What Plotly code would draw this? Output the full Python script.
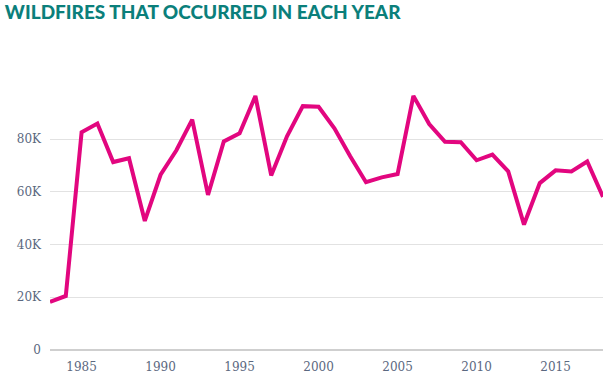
import plotly.graph_objects as go

years = list(range(1983, 2019))
wildfires = [18229, 20493, 82591, 85907, 71300, 72750, 48949, 66481, 75754, 87394,
             58810, 79107, 82234, 96363, 66196, 81043, 92487, 92250, 84079, 73457,
             63629, 65461, 66753, 96385, 85705, 78979, 78792, 71971, 74126, 67774,
             47579, 63312, 68151, 67743, 71499, 58083]
y_ticks = [0, 20000, 40000, 60000, 80000]
y_tick_labels = ["0", "20K", "40K", "60K", "80K"]
x_ticks = [1985, 1990, 1995, 2000, 2005, 2010, 2015]
title_text = "WILDFIRES THAT OCCURRED IN EACH YEAR"

fig = go.Figure(go.Scatter(
    x=years, y=wildfires, mode="lines",
    line=dict(color="#e2067f", width=4),
    hoverinfo="x+y",
    cliponaxis=False,
))

fig.update_layout(
    width=608, height=378,
    margin=dict(l=50, r=5, t=60, b=28, autoexpand=False),
    paper_bgcolor="white", plot_bgcolor="white",
    showlegend=False,
    title=dict(text=title_text, x=0.008, xanchor="left",
               y=0.985, yanchor="top",
               font=dict(family="Lato", size=19, color="#0b7f7b", weight=900)),
)
fig.update_xaxes(range=[1983, 2018], tickvals=x_ticks, showgrid=False, zeroline=False,
                 showline=False, ticks="", automargin=False, ticklabelstandoff=8,
                 tickfont=dict(family="DejaVu Serif", size=12, color="#5b6880"))
fig.update_yaxes(range=[0, 110000], tickvals=y_ticks, ticktext=y_tick_labels,
                 showgrid=True, gridcolor="#e2e2e2", gridwidth=1,
                 zeroline=True, zerolinecolor="#cfcfcf", zerolinewidth=1.5,
                 showline=False, ticks="", ticklabelstandoff=8, automargin=False,
                 tickfont=dict(family="DejaVu Serif", size=12, color="#5b6880"))

fig.write_html("out.html", config={"displayModeBar": False},
               post_script="document.body.style.margin='0';document.body.style.padding='0';")
